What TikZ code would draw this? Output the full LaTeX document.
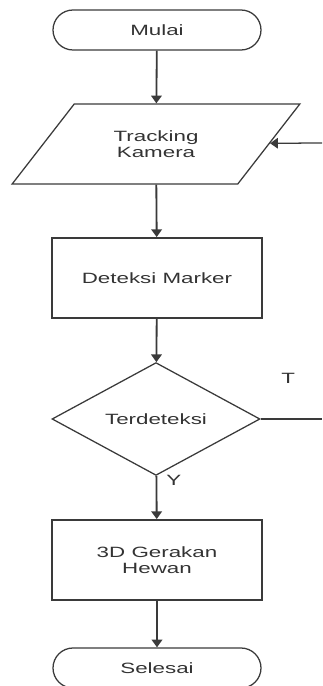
\documentclass[tikz,border=0pt]{standalone}
\usepackage{fontspec}
\setmainfont{Liberation Sans}[FakeStretch=1.5]
\usetikzlibrary{shapes.geometric,arrows.meta}
\definecolor{garis}{HTML}{3A3A3A}
\definecolor{tulisan}{HTML}{333333}
\begin{document}
\begin{tikzpicture}[>={Triangle[length=5.5pt,width=7.5pt]},
        every node/.style={text=tulisan, font=\fontsize{10.6}{11}\selectfont, align=center},
        terminal/.style={draw=garis, line width=0.9pt, rounded corners=0.5cm, minimum width=5.2cm, minimum height=1cm},
        proses/.style={draw=garis, line width=1.3pt, minimum width=5.25cm, minimum height=2cm},
        masukan/.style={draw=garis, line width=0.9pt, trapezium, trapezium left angle=45, trapezium right angle=135, trapezium stretches=true, minimum width=7.2cm, minimum height=2cm},
        keputusan/.style={draw=garis, line width=0.9pt, diamond, inner sep=0pt, minimum width=5.2cm, minimum height=2cm},
        panah/.style={->, draw=garis, line width=1.3pt}]
        \useasboundingbox (0,0) rectangle (8.05,17.15);
        \node[terminal] (mulai) at (3.925,16.4) {Mulai};
        \node[masukan] (track) at (3.9,13.55) {Tracking\\Kamera};
        \node[proses] (deteksi) at (3.925,10.2) {Deteksi Marker};
        \node[keputusan] (cek) at (3.9,6.675) {Terdeteksi};
        \node[proses] (gerak) at (3.925,3.15) {3D Gerakan\\Hewan};
        \node[terminal] (selesai) at (3.925,0.45) {Selesai};
        \coordinate (balik) at (8.05,13.575);
        \coordinate (ujung) at (8.05,6.675);

        \draw[panah] (mulai) -- (track);
        \draw[panah] (track) -- (deteksi);
        \draw[panah] (deteksi) -- (cek);
        \draw[panah] (cek) -- (gerak) node[pos=0.1, right=3pt] {Y};
        \draw[panah] (gerak) -- (selesai);
        \draw[draw=garis, line width=0.9pt] (cek.east) -- (ujung) node[pos=0.45, above=0.75cm] {T};
        \draw[panah, line width=0.9pt] (balik) -- (track);
    \end{tikzpicture}
\end{document}
